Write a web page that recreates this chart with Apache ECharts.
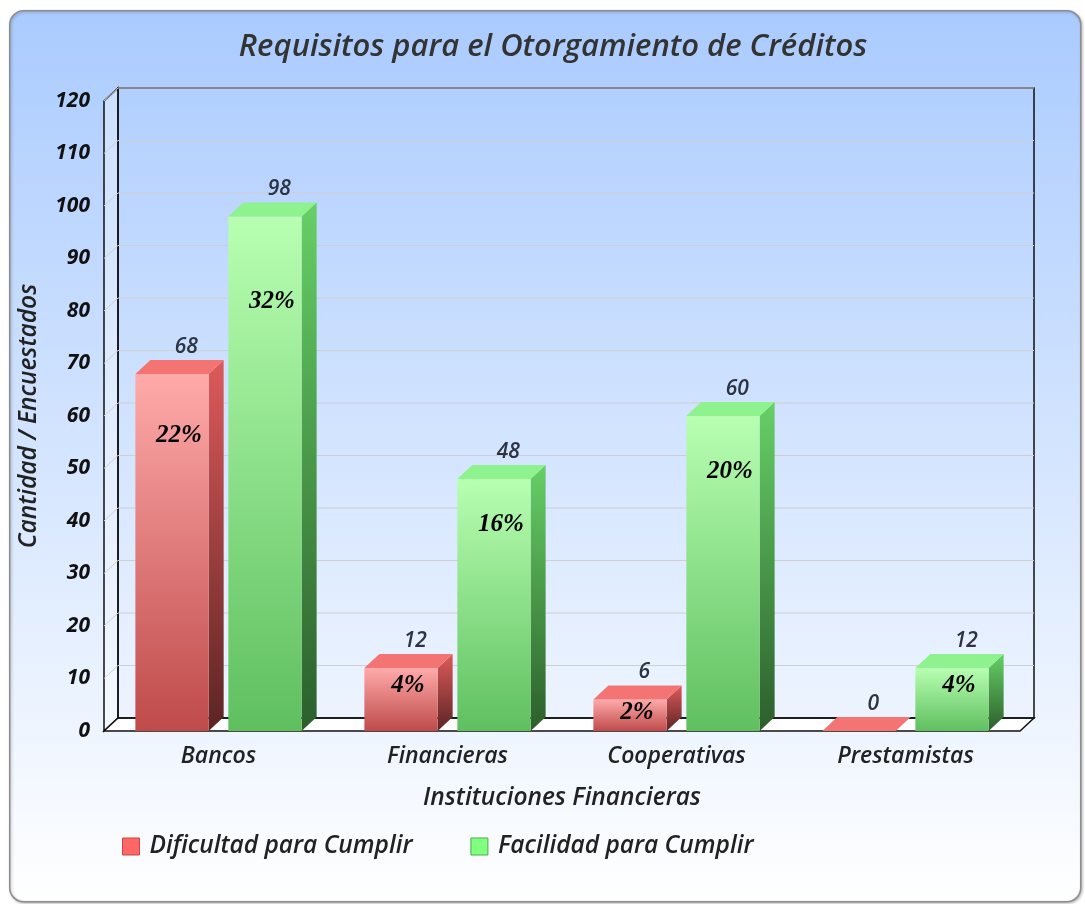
<!DOCTYPE html>
<html>
<head>
<meta charset="utf-8">
<script src="https://cdn.jsdelivr.net/npm/echarts@6/dist/echarts.min.js"></script>
<style>
html, body { margin: 0; padding: 0; background: #fff; }
#chart { width: 1085px; height: 904px; }
</style>
</head>
<body>
<div id="chart"></div>
<script>
// datos
var categorias = ['Bancos', 'Financieras', 'Cooperativas', 'Prestamistas'];
var dificultad = [68, 12, 6, 0];
var facilidad = [98, 48, 60, 12];
var pctDificultad = ['22%', '4%', '2%', ''];
var pctFacilidad = ['32%', '16%', '20%', '4%'];
var yTicks = [0, 10, 20, 30, 40, 50, 60, 70, 80, 90, 100, 110, 120];

var FUENTE = '"Open Sans", "Noto Sans", sans-serif';
var WX = 14, WY = 13; // profundidad de las paredes
var BX = 15, BY = 14; // profundidad de las barras

var grad = function (a, b) {
    return new echarts.graphic.LinearGradient(0, 0, 0, 1, [
        { offset: 0, color: a }, { offset: 1, color: b }
    ]);
};

var colRojo = { front: ['#ffaaaa', '#bf4a4a'], side: ['#dd5a5a', '#5c2424'], top: '#f47474' };
var colVerde = { front: ['#b8ffb2', '#5fbf5f'], side: ['#66d066', '#2c5e2c'], top: '#8ef28e' };

// paredes, piso y líneas de la cuadrícula
function paredes(params, api) {
    var cs = params.coordSys;
    var gx = cs.x, gy = cs.y, gw = cs.width, gh = cs.height;
    var v = api.value(0);
    var y = api.coord([0, v])[1];
    var kids = [];
    if (v > 0) {
        kids.push({
            type: 'polyline',
            shape: { points: [[gx, y], [gx + WX, y - WY], [gx + gw + WX, y - WY]] },
            style: { stroke: '#cfcfcf', lineWidth: 1, fill: null }
        });
    } else {
        var yb = gy + gh;
        kids.push({
            type: 'polygon',
            shape: { points: [[gx, yb], [gx, gy], [gx + WX, gy - WY], [gx + WX, yb - WY]] },
            style: { fill: 'rgba(255,255,255,0.35)', stroke: '#111', lineWidth: 1.5 }
        });
        kids.push({
            type: 'polygon',
            shape: { points: [[gx, yb], [gx + WX, yb - WY], [gx + gw + WX, yb - WY], [gx + gw, yb]] },
            style: { fill: '#ffffff', stroke: '#111', lineWidth: 1.5 }
        });
        kids.push({
            type: 'rect',
            shape: { x: gx + WX, y: gy - WY, width: gw, height: gh },
            style: { fill: null, stroke: '#111', lineWidth: 1.5 }
        });
    }
    return { type: 'group', children: kids };
}

// barra en 3D
function barra3d(lado, pcts, col) {
    return function (params, api) {
        var i = api.value(0), v = api.value(1);
        var base = api.coord([i, 0]);
        var top = api.coord([i, v]);
        var band = api.size([1, 0])[0];
        var w = band * 0.32;
        var cx = base[0] + lado * band * 0.203;
        var x0 = cx - w / 2, x1 = cx + w / 2, y0 = top[1], y1 = base[1];
        var h = y1 - y0;
        var kids = [];
        if (h > 0) {
            kids.push({
                type: 'polygon',
                shape: { points: [[x1, y0], [x1 + BX, y0 - BY], [x1 + BX, y1 - BY], [x1, y1]] },
                style: { fill: grad(col.side[0], col.side[1]) }
            });
            kids.push({
                type: 'rect',
                shape: { x: x0, y: y0, width: w, height: h },
                style: { fill: grad(col.front[0], col.front[1]) }
            });
        }
        kids.push({
            type: 'polygon',
            shape: { points: [[x0, y0], [x0 + BX, y0 - BY], [x1 + BX, y0 - BY], [x1, y0]] },
            style: { fill: col.top }
        });
        kids.push({
            type: 'text',
            style: {
                text: String(v), x: cx + BX * 0.95, y: y0 - BY - 13,
                align: 'center', verticalAlign: 'middle',
                fill: '#2c3444', fontFamily: FUENTE, fontStyle: 'italic', fontWeight: 600, fontSize: 21
            }
        });
        if (pcts[params.dataIndex]) {
            kids.push({
                type: 'text',
                style: {
                    text: pcts[params.dataIndex], x: cx + 7, y: y0 + h * 0.15 + 8,
                    align: 'center', verticalAlign: 'middle',
                    fill: '#000', fontFamily: '"Liberation Serif", "DejaVu Serif", serif',
                    fontStyle: 'italic', fontWeight: 'bold', fontSize: 25
                }
            });
        }
        return { type: 'group', children: kids };
    };
}

var textoEje = { fontFamily: FUENTE, fontStyle: 'italic', fontWeight: 600, fontSize: 24.5, color: '#222' };

var myChart = echarts.init(document.getElementById('chart'));
var option = {
    animation: false,
    graphic: [{
        type: 'rect', left: 9, top: 10, z: -10,
        shape: { width: 1071, height: 891, r: 14 },
        style: {
            fill: grad('#aacbff', '#ffffff'),
            stroke: '#8c8c8c', lineWidth: 1.5,
            shadowBlur: 3, shadowColor: 'rgba(0,0,0,0.25)', shadowOffsetX: 1, shadowOffsetY: 1
        }
    }],
    title: {
        text: 'Requisitos para el Otorgamiento de Créditos',
        left: 548, top: 27, textAlign: 'center',
        textStyle: { fontFamily: FUENTE, fontStyle: 'italic', fontWeight: 600, fontSize: 31, color: '#333' }
    },
    legend: {
        left: 122, top: 834, padding: 0, icon: 'rect', itemWidth: 17, itemHeight: 17, itemGap: 58,
        selectedMode: false,
        textStyle: { fontFamily: FUENTE, fontStyle: 'italic', fontWeight: 600, fontSize: 24.5, color: '#222', padding: [0, 0, 0, 5] },
        data: [
            { name: 'Dificultad para Cumplir', itemStyle: { color: '#ff6666', borderColor: '#c04848', borderWidth: 1 } },
            { name: 'Facilidad para Cumplir', itemStyle: { color: '#80ff80', borderColor: '#4caa4c', borderWidth: 1 } }
        ]
    },
    grid: { left: 104, right: 65, top: 101, bottom: 173, outerBoundsMode: 'none' },
    xAxis: {
        type: 'category', data: categorias,
        name: 'Instituciones Financieras', nameLocation: 'middle', nameGap: 55,
        nameTextStyle: textoEje,
        axisLine: { show: false }, axisTick: { show: false },
        axisLabel: { margin: 14, fontFamily: FUENTE, fontStyle: 'italic', fontWeight: 600, fontSize: 23, color: '#222' }
    },
    yAxis: {
        type: 'value', min: 0, max: 120, interval: 10,
        name: 'Cantidad / Encuestados', nameLocation: 'middle', nameGap: 62,
        nameTextStyle: textoEje,
        axisLine: { show: false }, axisTick: { show: false }, splitLine: { show: false },
        axisLabel: { margin: 14, fontFamily: FUENTE, fontStyle: 'italic', fontWeight: 700, fontSize: 21, color: '#111' }
    },
    series: [
        {
            type: 'custom', name: 'paredes', renderItem: paredes, silent: true, z: 1,
            data: yTicks.map(function (t) { return [t]; })
        },
        {
            type: 'custom', name: 'Dificultad para Cumplir', z: 3,
            itemStyle: { color: '#ff6666' },
            renderItem: barra3d(-1, pctDificultad, colRojo),
            data: dificultad.map(function (v, i) { return [i, v]; })
        },
        {
            type: 'custom', name: 'Facilidad para Cumplir', z: 3,
            itemStyle: { color: '#80ff80' },
            renderItem: barra3d(1, pctFacilidad, colVerde),
            data: facilidad.map(function (v, i) { return [i, v]; })
        }
    ]
};
myChart.setOption(option);
</script>
</body>
</html>
